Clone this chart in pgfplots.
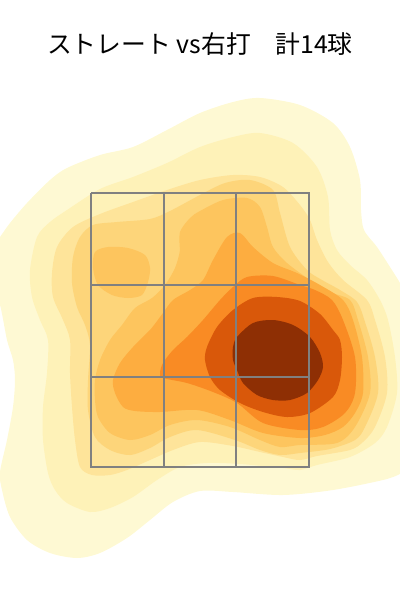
\documentclass[border=0pt]{standalone}
\usepackage{pgfplots}
\pgfplotsset{compat=1.18}
\usepackage{fontspec}
\newfontfamily\jp{Noto Sans CJK JP}
\definecolor{c1}{HTML}{FEF9D3}
\definecolor{c2}{HTML}{FEF2B8}
\definecolor{c3}{HTML}{FEE49A}
\definecolor{c4}{HTML}{FDD57A}
\definecolor{c5}{HTML}{FDC55E}
\definecolor{c6}{HTML}{FDAD40}
\definecolor{c7}{HTML}{F98B24}
\definecolor{c8}{HTML}{D9580A}
\definecolor{c9}{HTML}{8E2F04}
\definecolor{zone}{HTML}{808080}

\begin{document}
\begin{tikzpicture}
\begin{axis}[
  scale only axis,
  width=200pt, height=300pt,
  xmin=0, xmax=400, ymin=0, ymax=600,
  y dir=reverse,
  hide axis,
  clip=true,
]
% density bands, outermost first (pixel coordinates of the reference)
\addplot[fill=c1, draw=none, smooth] coordinates {
(-10,280) (-10,250) (0,237) (10,223) (27,203) (50,180) (67,168) (100,155) (133,147) (167,130) (200,113)
(233,102) (260,98) (300,105) (333,123) (350,147) (360,180) (361,210) (364,230) (377,247) (390,267)
(400,283) (415,310) (420,400) (415,465) (400,474) (383,480) (333,490) (283,495) (233,492) (200,491)
(173,502) (150,520) (127,538) (100,553) (77,558) (50,553) (27,540) (10,517) (2,490) (0,472)
(7,440) (13,407) (15,380) (13,360) (7,340) (0,305) (-10,280) (-10,250) (0,237)} -- cycle;

\addplot[fill=c2, draw=none, smooth] coordinates {
(32,297) (30,270) (37,237) (50,222) (67,210) (100,189) (133,177) (167,163) (200,147) (233,137) (260,133)
(293,143) (317,167) (328,197) (330,230) (337,250) (350,265) (367,280) (380,300) (388,320) (395,357)
(397,393) (387,427) (375,443) (350,457) (317,465) (300,470) (283,468) (240,464) (207,463) (180,467)
(157,480) (133,497) (110,508) (90,512) (67,503) (55,490) (48,473) (43,440) (43,407) (47,373)
(48,340) (40,320) (32,297) (30,270) (37,237)} -- cycle;

\addplot[fill=c3, draw=none, smooth] coordinates {
(53,297) (52,273) (57,247) (73,227) (100,214) (133,202) (167,190) (200,180) (233,175) (260,177) (283,187)
(300,205) (310,220) (317,240) (328,262) (343,280) (367,300) (375,320) (385,357) (387,393) (375,427)
(363,442) (350,450) (317,456) (300,460) (283,457) (260,452) (233,446) (200,442) (173,450) (150,460)
(127,470) (110,475) (92,475) (80,467) (75,440) (72,407) (70,373) (70,340) (63,320) (53,297) (52,273) (57,247)} -- cycle;

\addplot[fill=c4, draw=none, smooth] coordinates {
(77,307) (72,283) (73,257) (80,237) (93,225) (117,222) (150,219) (170,211) (200,195) (225,183) (250,180)
(273,190) (280,213) (290,247) (307,270) (322,280) (340,290) (357,302) (365,322) (375,357) (378,393)
(365,427) (355,440) (330,449) (300,453) (280,455) (260,450) (235,440) (197,430) (170,437) (150,448)
(130,455) (110,450) (95,437) (88,410) (88,380) (90,345) (85,325) (77,307) (72,283) (73,257)} -- cycle;

\addplot[fill=c5, draw=none, smooth] coordinates {
(93,268) (95,252) (108,247) (128,248) (145,255) (150,268) (148,282) (142,295) (128,298) (112,295) (98,285)
(93,268) (95,252) (108,247)} -- cycle;

\addplot[fill=c5, draw=none, smooth] coordinates {
(180,250) (180,232) (190,218) (200,211) (223,200) (247,198) (260,207) (267,227) (273,247) (287,263) (310,280)
(330,292) (350,300) (358,320) (368,357) (370,393) (355,427) (337,443) (300,445) (280,447) (260,440)
(230,427) (197,420) (170,425) (150,435) (130,440) (110,433) (98,417) (95,400) (95,380) (100,360)
(110,340) (122,325) (135,308) (152,298) (165,285) (175,268) (180,250) (180,232) (190,218)} -- cycle;

\addplot[fill=c6, draw=none, smooth] coordinates {
(150,330) (133,347) (120,363) (113,380) (115,393) (123,407) (135,411) (160,412) (197,410) (230,420) (263,433)
(300,438) (325,435) (343,427) (355,413) (363,393) (362,357) (353,320) (343,300) (320,285) (297,273)
(273,263) (253,247) (240,233) (227,237) (213,260) (203,280) (190,290) (173,300) (163,313) (150,330)
(133,347) (120,363)} -- cycle;

\addplot[fill=c7, draw=none, smooth] coordinates {
(163,378) (160,373) (163,363) (173,350) (187,337) (203,320) (220,300) (233,287) (247,277) (273,276) (300,285)
(315,290) (332,300) (343,320) (355,357) (355,393) (345,413) (323,427) (300,430) (263,423) (237,403)
(213,392) (187,383) (163,378) (160,373) (163,363)} -- cycle;

\addplot[fill=c8, draw=none, smooth] coordinates {
(210,377) (205,360) (207,347) (217,327) (233,310) (253,298) (277,297) (300,301) (320,314) (333,330) (340,340)
(342,357) (340,380) (333,397) (310,413) (287,417) (263,412) (240,403) (220,390) (210,377) (205,360) (207,347)} -- cycle;

\addplot[fill=c9, draw=none, smooth] coordinates {
(237,370) (233,360) (233,347) (237,337) (253,323) (273,320) (293,325) (310,337) (320,353) (323,367) (318,380)
(307,393) (290,400) (273,400) (257,395) (243,383) (237,370) (233,360) (233,347)} -- cycle;

% strike zone 3x3
\addplot[zone, line width=0.65pt] coordinates {(91,193) (309,193) (309,467) (91,467) (91,193)};
\addplot[zone, line width=0.65pt] coordinates {(164,193) (164,467)};
\addplot[zone, line width=0.65pt] coordinates {(236,193) (236,467)};
\addplot[zone, line width=0.65pt] coordinates {(91,285) (309,285)};
\addplot[zone, line width=0.65pt] coordinates {(91,377) (309,377)};

\node[font=\jp\fontsize{12.4}{15}\selectfont, text=black] at (axis cs:200,44) {ストレート vs右打　計14球};
\end{axis}
\pgfresetboundingbox
\path (current axis.south west) rectangle (current axis.north east);
\end{tikzpicture}
\end{document}
